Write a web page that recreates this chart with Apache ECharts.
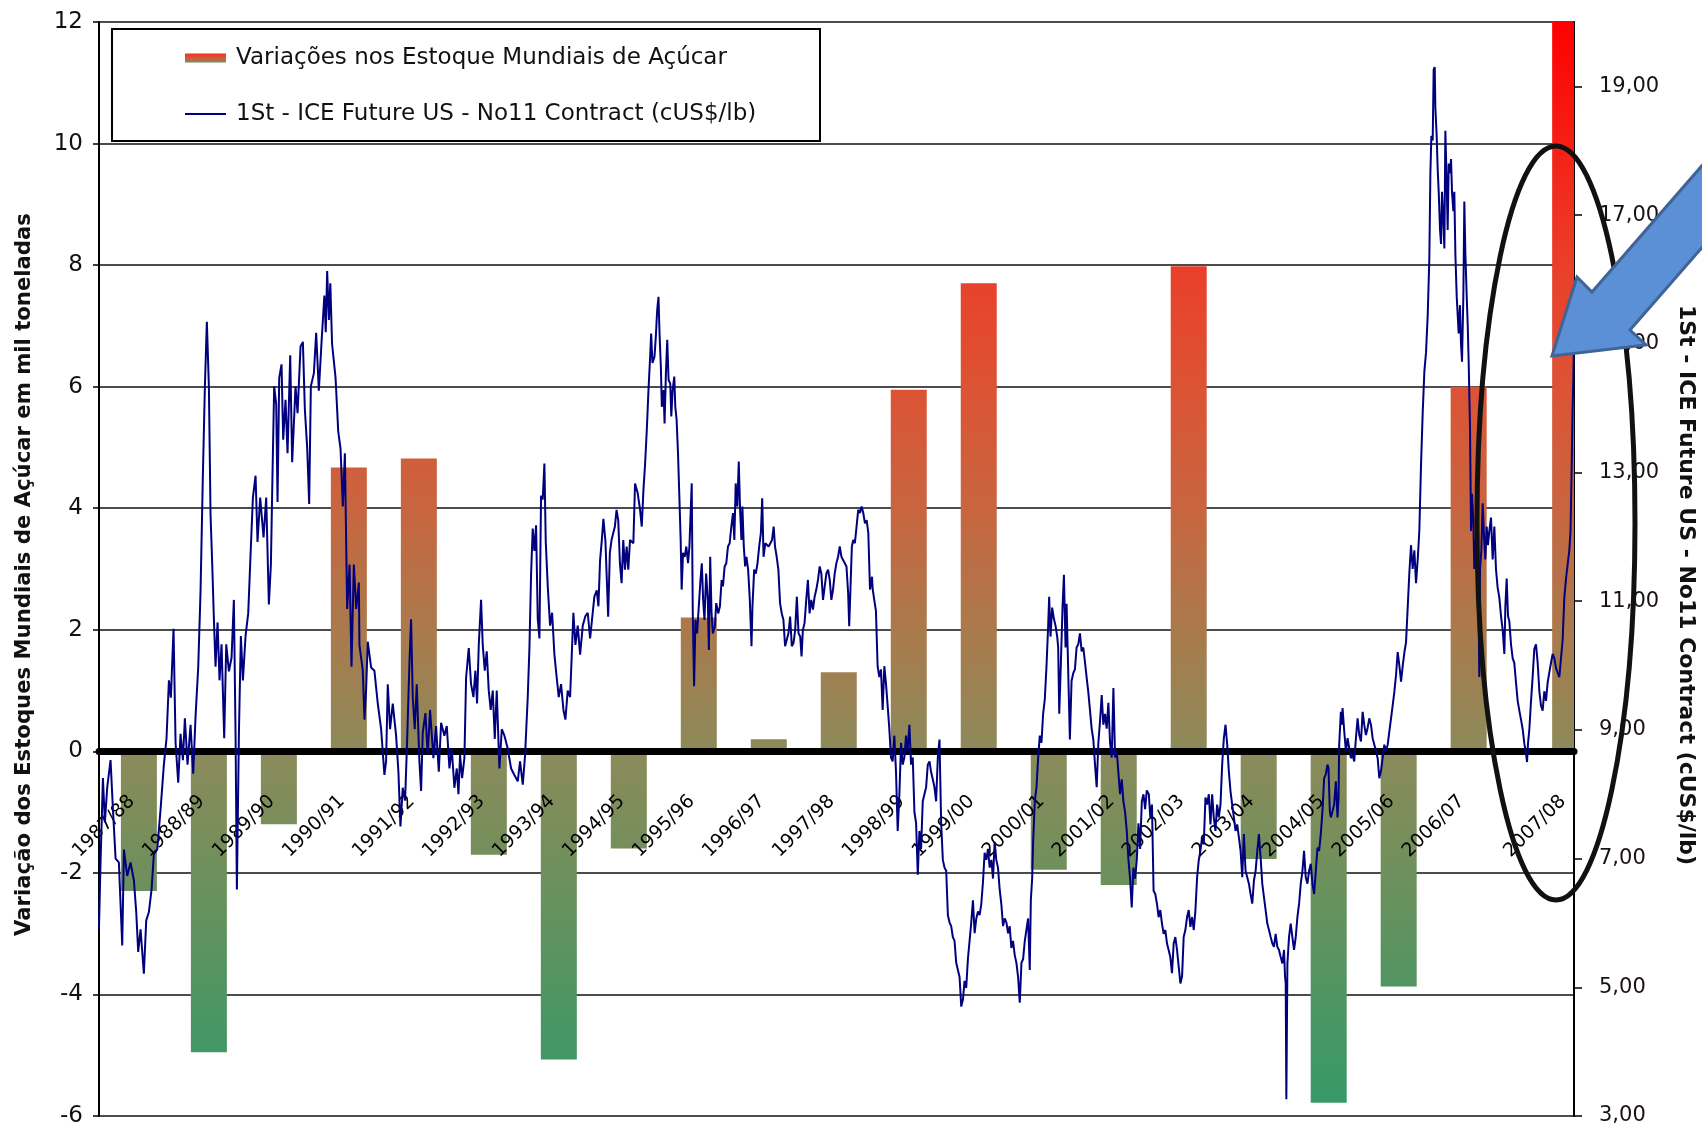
<!DOCTYPE html>
<html>
<head>
<meta charset="utf-8">
<title>Estoques mundiais de açúcar x ICE No11</title>
<script src="https://cdn.jsdelivr.net/npm/echarts@6/dist/echarts.min.js"></script>
<style>
  html, body { margin: 0; padding: 0; background: #ffffff; }
  #chart { width: 1702px; height: 1128px; }
</style>
</head>
<body>
<div id="chart"></div>
<script>
// Crop seasons and the date each season's bar is drawn at (decimal years)
const seasons = ['1987/88', '1988/89', '1989/90', '1990/91', '1991/92', '1992/93', '1993/94',
  '1994/95', '1995/96', '1996/97', '1997/98', '1998/99', '1999/00', '2000/01', '2001/02',
  '2002/03', '2003/04', '2004/05', '2005/06', '2006/07', '2007/08'];
const seasonPos = [1988, 1989, 1990, 1991, 1992, 1993, 1994, 1995, 1996, 1997, 1998, 1999,
  2000, 2001, 2002, 2003, 2004, 2005, 2006, 2007, 2008.45];

// Change in world sugar stocks per season (left axis)
const stockChange = [-2.3, -4.95, -1.2, 4.67, 4.82, -1.7, -5.07, -1.6, 2.2, 0.2, 1.3, 5.95,
  7.7, -1.95, -2.2, 7.98, -1.77, -5.78, -3.87, 6.0, 12];

// Right-axis tick values (cUS$/lb)
const priceTicks = [3, 5, 7, 9, 11, 13, 15, 17, 19];

// 1st-month ICE Sugar No11 futures, [decimal year, cUS$/lb]
const priceSeries = [
  [1987.429,5.90],[1987.452,6.94],[1987.486,8.25],[1987.514,7.56],[1987.548,8.11],[1987.595,8.53],[1987.629,7.77],[1987.667,7.00],[1987.714,6.94],[1987.762,5.65],[1987.786,7.14],[1987.833,6.73],[1987.881,6.94],[1987.929,6.66],[1987.962,6.17],[1987.990,5.55],[1988.024,5.90],[1988.071,5.21],[1988.105,6.04],[1988.143,6.17],[1988.181,6.52],[1988.214,7.07],[1988.262,7.14],[1988.310,7.77],[1988.357,8.46],[1988.395,8.87],[1988.429,9.77],[1988.457,9.50],[1988.495,10.57],[1988.524,8.80],[1988.562,8.18],[1988.595,8.94],[1988.629,8.53],[1988.657,9.18],[1988.695,8.46],[1988.738,9.08],[1988.776,8.32],[1988.810,9.22],[1988.848,9.98],[1988.881,11.16],[1988.914,12.95],[1988.943,14.34],[1988.971,15.34],[1989.000,14.34],[1989.024,12.33],[1989.048,11.57],[1989.071,10.74],[1989.095,9.98],[1989.124,10.67],[1989.152,9.77],[1989.181,10.33],[1989.219,8.87],[1989.248,10.33],[1989.286,9.91],[1989.324,10.12],[1989.357,11.02],[1989.381,8.94],[1989.400,6.52],[1989.429,8.94],[1989.457,10.46],[1989.486,9.77],[1989.524,10.46],[1989.562,10.81],[1989.595,11.71],[1989.629,12.61],[1989.667,12.95],[1989.695,11.92],[1989.733,12.61],[1989.781,11.99],[1989.819,12.61],[1989.857,10.95],[1989.886,11.57],[1989.910,13.03],[1989.933,14.34],[1989.962,14.06],[1989.981,12.54],[1990.005,14.47],[1990.038,14.68],[1990.062,13.51],[1990.095,14.13],[1990.124,13.30],[1990.162,14.82],[1990.190,13.16],[1990.238,14.34],[1990.267,13.92],[1990.310,14.96],[1990.343,15.03],[1990.371,13.99],[1990.405,13.37],[1990.433,12.51],[1990.457,14.34],[1990.500,14.54],[1990.533,15.17],[1990.571,14.27],[1990.610,15.03],[1990.650,15.75],[1990.670,15.18],[1990.690,16.13],[1990.715,15.37],[1990.735,15.94],[1990.760,15.00],[1990.810,14.47],[1990.848,13.64],[1990.881,13.37],[1990.914,12.47],[1990.943,13.30],[1990.976,10.88],[1991.010,11.57],[1991.038,9.98],[1991.071,11.57],[1991.105,10.88],[1991.143,11.29],
  [1991.151,10.32],[1991.199,9.92],[1991.223,9.16],[1991.246,9.61],[1991.270,10.37],[1991.318,9.97],[1991.365,9.92],[1991.413,9.41],[1991.461,9.01],[1991.508,8.30],[1991.532,8.51],[1991.556,9.71],[1991.589,9.01],[1991.627,9.41],[1991.675,8.91],[1991.708,8.35],[1991.737,7.50],[1991.770,8.10],[1991.803,7.90],[1991.832,8.81],[1991.865,10.02],[1991.889,10.72],[1991.913,9.51],[1991.941,9.01],[1991.970,9.71],[1992.008,8.51],[1992.032,8.05],[1992.056,8.96],[1992.094,9.26],[1992.127,8.61],[1992.160,9.31],[1992.208,8.56],[1992.246,9.06],[1992.285,8.35],[1992.318,9.11],[1992.365,8.91],[1992.399,9.06],[1992.437,8.40],[1992.470,8.71],[1992.508,8.10],[1992.542,8.40],[1992.566,8.00],[1992.589,8.61],[1992.618,8.25],[1992.651,8.56],[1992.675,9.81],[1992.713,10.27],[1992.746,9.71],[1992.780,9.51],[1992.808,9.92],[1992.832,9.41],[1992.856,10.32],[1992.889,11.02],[1992.913,10.32],[1992.942,9.92],[1992.970,10.22],[1992.999,9.61],[1993.027,9.31],[1993.056,9.61],[1993.085,8.86],[1993.113,9.61],[1993.151,8.40],[1993.185,9.01],[1993.223,8.91],[1993.270,8.71],[1993.318,8.40],[1993.365,8.30],[1993.413,8.20],[1993.446,8.51],[1993.485,8.15],[1993.518,8.61],[1993.556,9.51],[1993.580,10.27],[1993.604,11.43],[1993.627,12.13],[1993.651,11.78],[1993.675,12.18],[1993.699,10.72],[1993.723,10.42],[1993.746,12.64],[1993.770,12.58],[1993.794,13.14],[1993.813,11.93],[1993.842,11.23],[1993.875,10.62],[1993.904,10.82],[1993.937,10.17],[1993.970,9.81],[1993.999,9.51],[1994.032,9.71],[1994.066,9.31],[1994.094,9.16],[1994.127,9.61],[1994.161,9.51],[1994.185,10.17],[1994.208,10.82],[1994.237,10.32],[1994.270,10.62],[1994.304,10.17],[1994.342,10.62],[1994.380,10.77],[1994.413,10.82],[1994.447,10.42],[1994.475,10.72],[1994.508,11.07],[1994.542,11.17],[1994.566,10.92],[1994.589,11.63],[1994.613,11.93],[1994.637,12.28],[1994.666,11.93],
  [1994.705,10.76],[1994.729,11.75],[1994.753,11.95],[1994.801,12.16],[1994.825,12.42],[1994.849,12.26],[1994.873,11.59],[1994.897,11.28],[1994.921,11.95],[1994.945,11.49],[1994.969,11.85],[1994.993,11.49],[1995.017,11.95],[1995.065,11.90],[1995.089,12.83],[1995.127,12.68],[1995.161,12.42],[1995.185,12.16],[1995.209,12.73],[1995.233,13.14],[1995.257,13.66],[1995.281,14.28],[1995.305,14.80],[1995.319,15.16],[1995.338,14.70],[1995.367,14.80],[1995.386,15.11],[1995.405,15.52],[1995.424,15.73],[1995.439,15.16],[1995.458,14.64],[1995.472,14.02],[1995.496,14.28],[1995.511,13.76],[1995.530,14.54],[1995.549,15.06],[1995.568,14.44],[1995.592,14.38],[1995.607,13.87],[1995.626,14.28],[1995.650,14.49],[1995.664,14.02],[1995.683,13.82],[1995.703,13.30],[1995.722,12.63],[1995.741,11.95],[1995.755,11.18],[1995.775,11.75],[1995.799,11.69],[1995.822,11.85],[1995.846,11.59],[1995.866,11.85],[1995.885,12.42],[1995.899,12.83],[1995.914,10.81],[1995.933,9.68],[1995.952,10.71],[1995.976,10.50],[1996.000,10.92],[1996.024,11.33],[1996.043,11.59],[1996.062,11.02],[1996.081,10.71],[1996.105,11.43],[1996.129,11.02],[1996.144,10.24],[1996.163,11.69],[1996.182,10.81],[1996.201,10.50],[1996.230,10.61],[1996.249,10.97],[1996.278,10.81],[1996.302,10.92],[1996.326,11.33],[1996.345,11.23],[1996.369,11.54],[1996.393,11.59],[1996.417,11.85],[1996.441,11.90],[1996.465,12.16],[1996.489,12.37],[1996.508,11.95],[1996.527,12.83],[1996.551,12.47],[1996.571,13.17],[1996.590,12.42],[1996.609,11.95],[1996.623,12.47],[1996.643,11.85],[1996.662,11.54],[1996.681,11.69],[1996.705,11.49],[1996.729,11.02],[1996.753,10.30],[1996.767,10.92],[1996.791,11.49],[1996.815,11.43],[1996.839,11.59],[1996.863,11.85],[1996.887,12.06],[1996.906,12.60],[1996.925,11.69],[1996.950,11.90],[1996.998,11.85],[1997.046,11.95],[1997.070,12.16],[1997.089,11.85],[1997.113,11.69],[1997.137,11.49],[1997.161,10.97],[1997.185,10.81],[1997.209,10.71],[1997.233,10.30],[1997.257,10.40],[1997.281,10.50],[1997.305,10.76],[1997.329,10.30],[1997.353,10.35],[1997.377,10.55],[1997.401,11.07],[1997.425,10.50],[1997.449,10.45],[1997.468,10.14],[1997.487,10.55],[1997.511,10.66],[1997.535,11.02],[1997.559,11.33],[1997.583,10.81],[1997.607,11.02],[1997.631,10.87],[1997.655,11.07],[1997.679,11.18],[1997.703,11.33],[1997.727,11.54],[1997.751,11.43],[1997.775,11.02],[1997.799,11.23],[1997.823,11.43],[1997.847,11.49],[1997.871,11.33],[1997.894,11.02],[1997.918,11.18],[1997.942,11.43],[1997.966,11.59],[1997.990,11.69],[1998.014,11.85],[1998.038,11.69],[1998.062,11.64],[1998.086,11.59],[1998.110,11.54],[1998.134,11.12],[1998.149,10.61],[1998.168,11.23],[1998.187,11.85],[1998.206,11.95],[1998.230,11.90],[1998.254,12.16],[1998.278,12.42],[1998.302,12.37],[1998.326,12.47],[1998.350,12.37],[1998.374,12.21],[1998.398,12.26],[1998.422,12.06],[1998.446,11.18],[1998.475,11.38],
  [1998.484,11.19],[1998.507,11.02],[1998.531,10.85],[1998.555,9.99],[1998.579,9.82],[1998.603,9.94],[1998.627,9.31],[1998.651,9.99],[1998.675,9.71],[1998.699,9.37],[1998.722,9.02],[1998.746,8.57],[1998.770,8.51],[1998.794,8.91],[1998.818,8.34],[1998.842,7.43],[1998.866,8.00],[1998.890,8.80],[1998.914,8.46],[1998.937,8.57],[1998.961,8.91],[1998.985,8.68],[1999.009,9.08],[1999.033,8.46],[1999.057,8.57],[1999.081,7.72],[1999.105,7.55],[1999.129,6.75],[1999.152,7.43],[1999.176,7.15],[1999.200,7.89],[1999.224,8.00],[1999.248,8.11],[1999.272,8.46],[1999.296,8.51],[1999.320,8.34],[1999.344,8.23],[1999.367,8.11],[1999.391,7.89],[1999.415,8.57],[1999.439,8.85],[1999.463,7.55],[1999.487,6.98],[1999.511,6.86],[1999.535,6.81],[1999.559,6.12],[1999.582,6.01],[1999.606,5.95],[1999.630,5.78],[1999.654,5.72],[1999.678,5.38],[1999.702,5.27],[1999.726,5.16],[1999.750,4.70],[1999.774,4.81],[1999.797,5.10],[1999.821,4.99],[1999.845,5.44],[1999.869,5.72],[1999.893,6.01],[1999.917,6.35],[1999.941,5.84],[1999.965,6.07],[1999.989,6.18],[2000.012,6.12],[2000.036,6.29],[2000.060,6.63],[2000.084,7.09],[2000.108,6.98],[2000.132,7.15],[2000.156,6.86],[2000.180,6.98],[2000.204,6.69],[2000.227,7.26],[2000.251,6.98],[2000.275,6.86],[2000.299,6.52],[2000.323,6.29],[2000.347,5.95],[2000.371,6.07],[2000.395,6.01],[2000.419,5.84],[2000.442,5.95],[2000.466,5.61],[2000.490,5.72],[2000.514,5.50],[2000.538,5.38],[2000.562,5.16],[2000.586,4.76],[2000.610,5.38],[2000.634,5.44],[2000.658,5.72],[2000.682,5.72],[2000.705,6.07],[2000.729,5.27],[2000.744,6.35],[2000.763,6.69],[2000.777,7.26],[2000.801,7.89],[2000.825,8.11],[2000.849,8.57],[2000.872,8.91],[2000.896,8.80],[2000.920,9.25],[2000.944,9.48],[2000.968,9.99],[2000.992,10.62],[2001.006,11.07],[2001.025,10.45],[2001.049,10.90],[2001.073,10.73],[2001.097,10.62],[2001.121,10.45],[2001.135,10.28],[2001.150,9.25],[2001.169,9.88],[2001.197,10.90],[2001.217,11.41],[2001.240,10.28],[2001.255,10.96],[2001.279,9.88],[2001.302,8.85],[2001.326,9.76],[2001.350,9.88],[2001.374,9.94],[2001.398,10.28],[2001.422,10.33],[2001.446,10.50],[2001.470,10.22],[2001.494,10.28],[2001.518,10.05],[2001.541,9.82],[2001.565,9.59],[2001.589,9.31],[2001.613,9.02],[2001.637,8.85],[2001.661,8.46],[2001.685,8.11],[2001.709,8.80],[2001.733,9.14],[2001.757,9.54],[2001.780,9.08],[2001.804,9.25],[2001.828,9.02],[2001.852,9.42],[2001.876,8.80],[2001.900,8.57],[2001.924,9.65],[2001.948,8.57],[2001.971,8.68],[2001.995,8.34],[2002.019,8.00],[2002.043,8.23],[2002.067,7.89],[2002.091,7.72],[2002.115,7.43],[2002.139,6.98],[2002.162,6.69],[2002.186,6.24],[2002.210,6.86],[2002.234,6.69],[2002.258,6.98],[2002.282,7.55],[2002.306,7.15],[2002.330,7.89],[2002.354,8.00],[2002.377,7.77],[2002.401,8.06],[2002.430,8.00],
  [2002.451,7.64],[2002.475,7.84],[2002.498,6.50],[2002.522,6.45],[2002.546,6.30],[2002.570,6.09],[2002.594,6.20],[2002.618,5.99],[2002.642,5.83],[2002.666,5.89],[2002.690,5.68],[2002.713,5.58],[2002.737,5.47],[2002.761,5.22],[2002.785,5.68],[2002.809,5.78],[2002.833,5.58],[2002.857,5.32],[2002.881,5.06],[2002.905,5.17],[2002.928,5.78],[2002.952,5.89],[2002.976,6.09],[2003.000,6.20],[2003.024,5.94],[2003.048,6.09],[2003.072,5.89],[2003.096,6.20],[2003.120,6.71],[2003.143,6.97],[2003.167,7.12],[2003.191,7.33],[2003.215,7.22],[2003.239,7.95],[2003.263,7.84],[2003.287,8.00],[2003.311,7.53],[2003.335,8.00],[2003.358,7.64],[2003.382,7.43],[2003.406,7.84],[2003.430,7.64],[2003.454,7.84],[2003.478,8.46],[2003.502,8.87],[2003.526,9.08],[2003.550,8.77],[2003.573,8.36],[2003.597,8.05],[2003.621,7.84],[2003.645,7.64],[2003.669,7.43],[2003.693,7.53],[2003.717,7.33],[2003.741,7.12],[2003.765,6.71],[2003.788,7.38],[2003.812,6.81],[2003.860,6.61],[2003.884,6.45],[2003.908,6.30],[2003.932,6.66],[2003.956,6.81],[2003.980,7.12],[2004.003,7.38],[2004.027,7.02],[2004.051,6.61],[2004.075,6.40],[2004.099,6.20],[2004.123,5.99],[2004.147,5.89],[2004.171,5.78],[2004.195,5.68],[2004.218,5.63],[2004.242,5.83],[2004.266,5.63],[2004.290,5.58],[2004.314,5.47],[2004.338,5.37],[2004.362,5.58],[2004.376,5.17],[2004.386,5.06],[2004.395,3.26],[2004.410,5.37],[2004.433,5.78],[2004.457,5.99],[2004.481,5.78],[2004.505,5.58],[2004.529,5.78],[2004.553,6.09],[2004.577,6.30],[2004.601,6.61],[2004.625,6.81],[2004.648,7.12],[2004.672,6.71],[2004.696,6.61],[2004.720,6.81],[2004.744,6.92],[2004.768,6.61],[2004.792,6.45],[2004.816,6.81],[2004.840,7.17],[2004.863,7.12],[2004.887,7.38],[2004.911,7.74],[2004.935,8.25],[2004.959,8.31],[2004.983,8.46],[2004.997,8.41],[2005.016,7.74],[2005.031,7.64],[2005.055,7.74],[2005.078,7.84],[2005.102,8.20],[2005.126,7.64],[2005.141,7.95],[2005.150,8.77],[2005.174,9.28],[2005.188,9.08],[2005.198,9.34],[2005.222,8.98],[2005.246,8.67],[2005.270,8.87],[2005.293,8.72],[2005.317,8.56],[2005.341,8.61],[2005.365,8.51],[2005.389,8.87],[2005.413,9.18],[2005.437,8.92],[2005.461,8.82],[2005.485,9.28],[2005.508,9.08],[2005.532,8.92],[2005.556,9.03],[2005.580,9.18],[2005.604,9.08],[2005.628,8.87],[2005.652,8.77],[2005.676,8.67],[2005.700,8.56],[2005.723,8.25],[2005.747,8.36],[2005.771,8.56],[2005.795,8.77],[2005.819,8.67],[2005.843,8.77],[2005.867,8.98],[2005.891,9.18],[2005.915,9.39],[2005.938,9.59],[2005.962,9.85],[2005.986,10.21],[2006.010,10.00],[2006.034,9.75],[2006.058,10.00],[2006.082,10.21],[2006.105,10.36],
  [2006.152,11.43],[2006.176,11.87],[2006.200,11.50],[2006.224,11.79],[2006.248,11.28],[2006.272,11.65],[2006.295,12.09],[2006.319,13.11],[2006.343,13.92],[2006.367,14.57],[2006.391,14.87],[2006.415,15.45],[2006.438,16.33],[2006.453,17.65],[2006.467,18.23],[2006.486,18.16],[2006.500,19.26],[2006.515,19.30],[2006.524,18.67],[2006.543,18.23],[2006.557,17.72],[2006.572,17.36],[2006.591,16.77],[2006.605,16.55],[2006.619,17.36],[2006.638,16.92],[2006.653,16.48],[2006.667,18.31],[2006.686,17.50],[2006.700,16.77],[2006.715,17.80],[2006.734,17.65],[2006.748,17.87],[2006.762,17.36],[2006.781,17.06],[2006.795,17.36],[2006.810,16.40],[2006.829,15.74],[2006.843,15.45],[2006.857,15.16],[2006.876,15.60],[2006.890,15.01],[2006.905,14.72],[2006.924,15.74],[2006.938,17.21],[2006.953,16.40],[2006.972,15.74],[2006.986,15.31],[2007.000,14.72],[2007.019,13.70],[2007.034,12.09],[2007.048,12.67],[2007.067,12.23],[2007.081,11.50],[2007.095,11.94],[2007.114,11.79],[2007.129,11.35],[2007.143,10.77],[2007.152,9.82],[2007.162,11.50],[2007.181,11.79],[2007.200,12.52],[2007.219,12.01],[2007.238,11.65],[2007.257,12.16],[2007.276,11.87],[2007.295,12.09],[2007.319,12.30],[2007.343,11.65],[2007.367,12.16],[2007.390,11.50],[2007.414,11.21],[2007.438,11.06],[2007.462,10.77],[2007.486,10.55],[2007.510,10.18],[2007.524,10.91],[2007.543,11.35],[2007.562,10.77],[2007.581,10.69],[2007.605,10.33],[2007.629,10.11],[2007.652,10.04],[2007.676,9.74],[2007.700,9.45],[2007.724,9.30],[2007.748,9.16],[2007.772,9.01],[2007.795,8.79],[2007.819,8.64],[2007.834,8.50],[2007.848,8.79],[2007.867,9.01],[2007.891,9.45],[2007.914,9.82],[2007.938,10.26],[2007.962,10.33],[2007.986,10.04],[2008.010,9.60],[2008.033,9.38],[2008.057,9.30],[2008.081,9.60],[2008.105,9.45],[2008.129,9.74],[2008.152,9.89],[2008.176,10.04],[2008.200,10.18],[2008.224,10.11],[2008.248,9.96],[2008.271,9.89],[2008.295,9.82],[2008.319,10.11],[2008.343,10.40],[2008.367,11.06],[2008.391,11.35],[2008.414,11.57],[2008.438,11.79],[2008.455,12.09],[2008.470,12.96],[2008.485,13.99],[2008.495,14.43],[2008.505,15.01]
];

const legendBar = 'Variações nos Estoque Mundiais de Açúcar';
const legendLine = '1St - ICE Future US - No11 Contract (cUS$/lb)';
const leftTitle = 'Variação dos Estoques Mundiais de Açúcar em mil toneladas';
const rightTitle = '1St - ICE Future US - No11 Contract (cUS$/lb)';

// Plot rectangle in page pixels
const plot = { left: 99, right: 1574, top: 22, bottom: 1116 };
const stockMin = -6, stockMax = 12;
// distance from the bottom edge up to the zero line, where the season axis sits
const zeroLift = (plot.bottom - plot.top) * (0 - stockMin) / (stockMax - stockMin);
const BAR_WIDTH = 36;

// Bars take their colour from one vertical ramp spanning the whole plot:
// red at the top of the scale, olive at zero, green at the bottom.
const barFill = new echarts.graphic.LinearGradient(0, plot.top, 0, plot.bottom, [
  { offset: 0.000, color: '#ff0000' },
  { offset: 0.222, color: '#ea3f2a' },
  { offset: 0.333, color: '#dc5334' },
  { offset: 0.444, color: '#c86540' },
  { offset: 0.556, color: '#aa7a4c' },
  { offset: 0.667, color: '#8c8a5a' },
  { offset: 0.778, color: '#6e905c' },
  { offset: 0.889, color: '#4f9562' },
  { offset: 1.000, color: '#349a68' }
], true);
const legendRamp = new echarts.graphic.LinearGradient(0, 0, 0, 1, [
  { offset: 0, color: '#ff2a18' },
  { offset: 0.5, color: '#cf5a3c' },
  { offset: 1, color: '#7d8c5e' }
]);

const FONT = 'DejaVu Sans';
const legendText = { fontFamily: FONT, fontSize: 23, color: '#111', lineHeight: 26, padding: [0, 0, 0, 5] };

// One bar per season, from zero to the season's value, cut at the plot edges
function renderStockBar(params, api) {
  const x = api.value(0);
  const v = api.value(1);
  const base = api.coord([x, 0]);
  const end = api.coord([x, v]);
  const cs = params.coordSys;
  const rect = echarts.graphic.clipRectByRect(
    { x: base[0] - BAR_WIDTH / 2, y: Math.min(base[1], end[1]), width: BAR_WIDTH, height: Math.abs(end[1] - base[1]) },
    { x: cs.x, y: cs.y, width: cs.width, height: cs.height }
  );
  return rect && { type: 'rect', shape: rect, style: { fill: barFill } };
}

const chart = echarts.init(document.getElementById('chart'), null, { renderer: 'canvas' });

chart.setOption({
  animation: false,
  backgroundColor: '#ffffff',
  textStyle: { fontFamily: FONT, color: '#111' },
  grid: {
    left: plot.left, top: plot.top,
    right: 1702 - plot.right, bottom: 1128 - plot.bottom,
    outerBoundsMode: 'none'
  },
  legend: [
    {
      left: 185, top: 45, padding: 0,
      itemWidth: 41, itemHeight: 9,
      textStyle: legendText, z: 8,
      data: [{ name: legendBar, icon: 'rect', itemStyle: { color: legendRamp } }]
    },
    {
      left: 185, top: 101, padding: 0,
      itemWidth: 41, itemHeight: 2,
      textStyle: legendText, z: 8,
      data: [{ name: legendLine, icon: 'rect', itemStyle: { color: '#00007f' } }]
    }
  ],
  xAxis: {
    type: 'value',
    min: 1987.43, max: 2008.505,
    position: 'bottom',
    offset: -zeroLift,
    z: 3,
    axisLine: { show: true, onZero: false, lineStyle: { color: '#000', width: 7 } },
    axisTick: { show: false },
    splitLine: { show: false },
    axisLabel: {
      customValues: seasonPos,
      rotate: 45,
      margin: 40,
      padding: [0, 10, 0, 0],
      fontFamily: FONT, fontSize: 19, color: '#000',
      formatter: v => { const i = seasonPos.indexOf(v); return i >= 0 ? seasons[i] : ''; }
    }
  },
  yAxis: [
    {
      type: 'value', position: 'left',
      min: stockMin, max: stockMax, interval: 2,
      axisLine: { show: true, lineStyle: { color: '#000', width: 2 } },
      axisTick: { show: true, length: 6, lineStyle: { color: '#000', width: 1.5 } },
      axisLabel: { fontFamily: FONT, fontSize: 23, color: '#111', margin: 16 },
      splitLine: { show: true, lineStyle: { color: '#111', width: 1.6 } },
      name: leftTitle, nameLocation: 'middle', nameGap: 64, nameRotate: 90,
      nameTextStyle: { fontFamily: FONT, fontWeight: 'bold', fontSize: 21.2, color: '#111', padding: [0, 11, 0, 0] }
    },
    {
      type: 'value', position: 'right',
      min: 3, max: 20,
      axisLine: { show: true, lineStyle: { color: '#000', width: 2 } },
      axisTick: { show: true, customValues: priceTicks, length: 8, lineStyle: { color: '#000', width: 1.5 } },
      axisLabel: {
        customValues: priceTicks,
        fontFamily: FONT, fontSize: 21, color: '#1a1212', margin: 25,
        formatter: v => v.toFixed(2).replace('.', ',')
      },
      splitLine: { show: false },
      name: rightTitle, nameLocation: 'middle', nameGap: 101, nameRotate: -90,
      nameTextStyle: { fontFamily: FONT, fontWeight: 'bold', fontSize: 22, color: '#111', padding: [0, 0, 0, 32] }
    }
  ],
  series: [
    {
      name: legendBar,
      type: 'custom',
      xAxisIndex: 0, yAxisIndex: 0,
      z: 2,
      encode: { x: 0, y: 1 },
      renderItem: renderStockBar,
      data: seasonPos.map((x, i) => [x, stockChange[i]])
    },
    {
      name: legendLine,
      type: 'line',
      xAxisIndex: 0, yAxisIndex: 1,
      symbol: 'none', showSymbol: false,
      z: 5,
      lineStyle: { color: '#00007f', width: 2 },
      itemStyle: { color: '#00007f' },
      data: priceSeries
    }
  ],
  graphic: [
    {
      // legend frame
      type: 'rect', z: 7,
      shape: { x: 112, y: 29, width: 708, height: 112 },
      style: { fill: '#ffffff', stroke: '#000', lineWidth: 2 }
    },
    {
      type: 'ellipse', z: 100,
      shape: { cx: 1556, cy: 523, rx: 79, ry: 377 },
      style: { fill: 'none', stroke: '#111', lineWidth: 5 }
    },
    {
      type: 'polygon', z: 101,
      shape: { points: [[1552, 356], [1577, 277], [1592, 292], [1800, 53], [1800, 135], [1630, 330], [1646, 345]] },
      style: { fill: '#5b8fd6', stroke: '#3f6496', lineWidth: 3 }
    }
  ]
});
</script>
</body>
</html>
